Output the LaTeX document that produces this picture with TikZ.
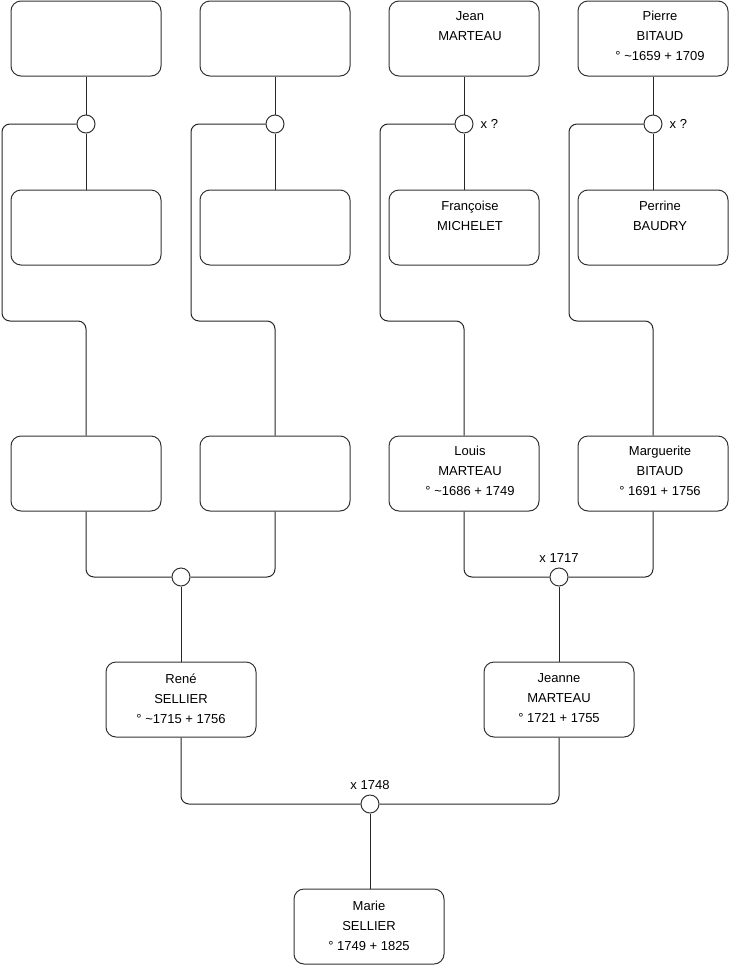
\documentclass[tikz,border=0pt]{standalone}
\usepackage{fontspec}
\setmainfont{Liberation Sans}
\begin{document}
\begin{tikzpicture}[x=1pt,y=-1pt,
  person/.style={draw=black!80, line width=1pt, rounded corners=10pt, minimum width=150pt, minimum height=75pt, inner sep=0pt},
  union/.style={draw=black!80, line width=1pt, circle, minimum size=18pt, inner sep=0pt, fill=white},
  link/.style={draw=black!85, line width=1pt, rounded corners=8pt},
  ptext/.style={anchor=north, align=center, font=\fontsize{13}{20}\selectfont, inner sep=0pt},
  mlabel/.style={font=\fontsize{13}{15}\selectfont, inner sep=0pt}]
\useasboundingbox (0,0) rectangle (740,975);
% persons row 1
\node[person] (a1) at (86,38.5) {};
\node[person] (b1) at (275,38.5) {};
\node[person] (c1) at (464,38.5) {};
\node[person] (d1) at (653,38.5) {};
% row 2
\node[person] (a2) at (86,227.5) {};
\node[person] (b2) at (275,227.5) {};
\node[person] (c2) at (464,227.5) {};
\node[person] (d2) at (653,227.5) {};
% row 3
\node[person] (a3) at (86,473.5) {};
\node[person] (b3) at (275,473.5) {};
\node[person] (c3) at (464,473.5) {};
\node[person] (d3) at (653,473.5) {};
% row 4
\node[person] (r) at (181,699.5) {};
\node[person] (j) at (559,699.5) {};
% row 5
\node[person] (m) at (369,926.5) {};
% texts
\node[ptext] (tc1) at ([xshift=6pt,yshift=-10.5pt]c1.north) {Jean\\MARTEAU};
\node[ptext] (td1) at ([xshift=7pt,yshift=-10.5pt]d1.north) {Pierre\\BITAUD\\° \char`~1659 + 1709};
\node[ptext] (tc2) at ([xshift=6pt,yshift=-11pt]c2.north) {Françoise\\MICHELET};
\node[ptext] (td2) at ([xshift=7pt,yshift=-11pt]d2.north) {Perrine\\BAUDRY};
\node[ptext] (tc3) at ([xshift=6pt,yshift=-10.5pt]c3.north) {Louis\\MARTEAU\\° \char`~1686 + 1749};
\node[ptext] (td3) at ([xshift=7pt,yshift=-10.5pt]d3.north) {Marguerite\\BITAUD\\° 1691 + 1756};
\node[ptext] (tr) at ([yshift=-12pt]r.north) {René\\SELLIER\\° \char`~1715 + 1756};
\node[ptext] (tj) at ([yshift=-12pt]j.north) {Jeanne\\MARTEAU\\° 1721 + 1755};
\node[ptext] (tm) at ([yshift=-12pt]m.north) {Marie\\SELLIER\\° 1749 + 1825};
% unions
\node[union] (ua) at (86,124) {};
\node[union] (ub) at (275,124) {};
\node[union] (uc) at (464,124) {};
\node[union] (ud) at (653,124) {};
\node[union] (ue) at (181,577) {};
\node[union] (uf) at (559,577) {};
\node[union] (ug) at (370,804) {};
% union labels
\node[mlabel, anchor=west] (lc) at ([xshift=7pt]uc.east) {x ?};
\node[mlabel, anchor=west] (ld) at ([xshift=7pt]ud.east) {x ?};
\node[mlabel, anchor=south] (lf) at ([yshift=5pt]uf.north) {x 1717};
\node[mlabel, anchor=south] (lg) at ([yshift=5pt]ug.north) {x 1748};
% links row1/row2 to unions
\foreach \p in {a,b,c,d}{
  \draw[link] (\p1.south) -- (u\p.north);
  \draw[link] (u\p.south) -- (\p2.north);
}
% unions to children in row 3
\draw[link] (ua.west) -- (2,124) -- (2,321) -- (86,321) -- (a3.north);
\draw[link] (ub.west) -- (191,124) -- (191,321) -- (275,321) -- (b3.north);
\draw[link] (uc.west) -- (380,124) -- (380,321) -- (464,321) -- (c3.north);
\draw[link] (ud.west) -- (569,124) -- (569,321) -- (653,321) -- (d3.north);
% row 3 to unions
\draw[link] (a3.south) |- (ue.west);
\draw[link] (b3.south) |- (ue.east);
\draw[link] (c3.south) |- (uf.west);
\draw[link] (d3.south) |- (uf.east);
\draw[link] (ue.south) -- (r.north);
\draw[link] (uf.south) -- (j.north);
% row 4 to final union
\draw[link] (r.south) |- (ug.west);
\draw[link] (j.south) |- (ug.east);
\draw[link] (ug.south) -- (m.north -| ug);
\end{tikzpicture}
\end{document}
